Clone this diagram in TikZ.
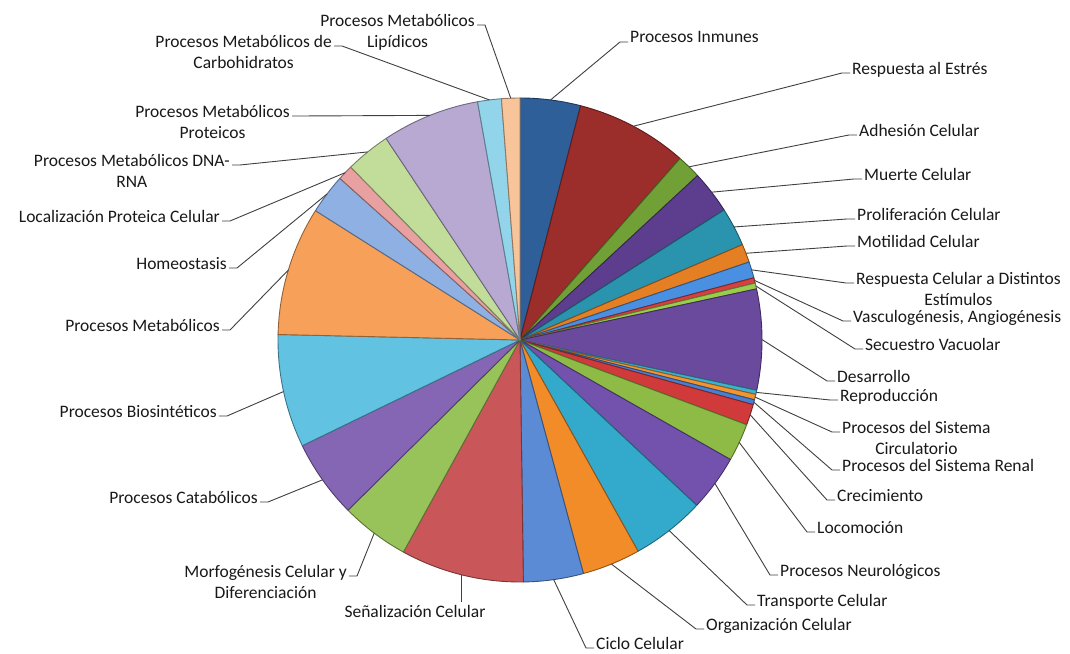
\documentclass[tikz,border=0pt]{standalone}
\usepackage{fontspec}
\setmainfont{Carlito}
\usetikzlibrary{calc}

\definecolor{cInm}{HTML}{2F5F98}
\definecolor{cEstres}{HTML}{9B2D2A}
\definecolor{cAdh}{HTML}{71A136}
\definecolor{cMuerte}{HTML}{5C3D8E}
\definecolor{cProlif}{HTML}{2A94AE}
\definecolor{cMotil}{HTML}{E57F24}
\definecolor{cResp}{HTML}{4A90E2}
\definecolor{cVasc}{HTML}{D64040}
\definecolor{cSecu}{HTML}{9ACD4E}
\definecolor{cDesa}{HTML}{6A4A9C}
\definecolor{cRepro}{HTML}{3CB4D0}
\definecolor{cCirc}{HTML}{F29430}
\definecolor{cRenal}{HTML}{4A7FD0}
\definecolor{cCrec}{HTML}{D03A3A}
\definecolor{cLoco}{HTML}{8DBB45}
\definecolor{cNeuro}{HTML}{7352AD}
\definecolor{cTransp}{HTML}{33AACB}
\definecolor{cOrgan}{HTML}{F28C28}
\definecolor{cCiclo}{HTML}{5B8BD4}
\definecolor{cSenal}{HTML}{C9575A}
\definecolor{cMorfo}{HTML}{98C25A}
\definecolor{cCatab}{HTML}{8466B5}
\definecolor{cBiosin}{HTML}{62C2E2}
\definecolor{cMetab}{HTML}{F7A05A}
\definecolor{cHomeo}{HTML}{8EB0E2}
\definecolor{cLocal}{HTML}{E8A0A0}
\definecolor{cDna}{HTML}{C2DC9A}
\definecolor{cProt}{HTML}{B7A9D2}
\definecolor{cCarb}{HTML}{92D5EA}
\definecolor{cLipi}{HTML}{F8C49A}

\begin{document}
\begin{tikzpicture}[x=1pt, y=1pt,
    slice/.style={fill=#1, draw=#1!60!black, line width=0.9pt, line join=round},
    lbl/.style={inner sep=0pt, align=center, font=\fontsize{17.5}{21}\selectfont, text=black!90},
    lblR/.style={lbl, anchor=north west},
    lblL/.style={lbl, anchor=north east},
    lead/.style={draw=black!75, line width=0.9pt}
]
\fill[white] (0,0) rectangle (1070,653);
\useasboundingbox (0,0) rectangle (1070,653);

\coordinate (o) at (520,313);

% pie slices, clockwise from the top
\path[slice=cInm] (o) -- ++(90:242pt) arc[start angle=90, end angle=75.5, radius=242pt] -- cycle;
\path[slice=cEstres] (o) -- ++(75.5:242pt) arc[start angle=75.5, end angle=48.6, radius=242pt] -- cycle;
\path[slice=cAdh] (o) -- ++(48.6:242pt) arc[start angle=48.6, end angle=42.8, radius=242pt] -- cycle;
\path[slice=cMuerte] (o) -- ++(42.8:242pt) arc[start angle=42.8, end angle=32.5, radius=242pt] -- cycle;
\path[slice=cProlif] (o) -- ++(32.5:242pt) arc[start angle=32.5, end angle=23.2, radius=242pt] -- cycle;
\path[slice=cMotil] (o) -- ++(23.2:242pt) arc[start angle=23.2, end angle=18.8, radius=242pt] -- cycle;
\path[slice=cResp] (o) -- ++(18.8:242pt) arc[start angle=18.8, end angle=14.9, radius=242pt] -- cycle;
\path[slice=cVasc] (o) -- ++(14.9:242pt) arc[start angle=14.9, end angle=13.6, radius=242pt] -- cycle;
\path[slice=cSecu] (o) -- ++(13.6:242pt) arc[start angle=13.6, end angle=12.2, radius=242pt] -- cycle;
\path[slice=cDesa] (o) -- ++(12.2:242pt) arc[start angle=12.2, end angle=-12, radius=242pt] -- cycle;
\path[slice=cRepro] (o) -- ++(-12:242pt) arc[start angle=-12, end angle=-13, radius=242pt] -- cycle;
\path[slice=cCirc] (o) -- ++(-13:242pt) arc[start angle=-13, end angle=-14.3, radius=242pt] -- cycle;
\path[slice=cRenal] (o) -- ++(-14.3:242pt) arc[start angle=-14.3, end angle=-15.5, radius=242pt] -- cycle;
\path[slice=cCrec] (o) -- ++(-15.5:242pt) arc[start angle=-15.5, end angle=-20.5, radius=242pt] -- cycle;
\path[slice=cLoco] (o) -- ++(-20.5:242pt) arc[start angle=-20.5, end angle=-29.6, radius=242pt] -- cycle;
\path[slice=cNeuro] (o) -- ++(-29.6:242pt) arc[start angle=-29.6, end angle=-43.1, radius=242pt] -- cycle;
\path[slice=cTransp] (o) -- ++(-43.1:242pt) arc[start angle=-43.1, end angle=-60.8, radius=242pt] -- cycle;
\path[slice=cOrgan] (o) -- ++(-60.8:242pt) arc[start angle=-60.8, end angle=-74.8, radius=242pt] -- cycle;
\path[slice=cCiclo] (o) -- ++(-74.8:242pt) arc[start angle=-74.8, end angle=-89.2, radius=242pt] -- cycle;
\path[slice=cSenal] (o) -- ++(-89.2:242pt) arc[start angle=-89.2, end angle=-118.8, radius=242pt] -- cycle;
\path[slice=cMorfo] (o) -- ++(-118.8:242pt) arc[start angle=-118.8, end angle=-135.3, radius=242pt] -- cycle;
\path[slice=cCatab] (o) -- ++(-135.3:242pt) arc[start angle=-135.3, end angle=-154.1, radius=242pt] -- cycle;
\path[slice=cBiosin] (o) -- ++(-154.1:242pt) arc[start angle=-154.1, end angle=-181.3, radius=242pt] -- cycle;
\path[slice=cMetab] (o) -- ++(-181.3:242pt) arc[start angle=-181.3, end angle=-212.3, radius=242pt] -- cycle;
\path[slice=cHomeo] (o) -- ++(-212.3:242pt) arc[start angle=-212.3, end angle=-221.9, radius=242pt] -- cycle;
\path[slice=cLocal] (o) -- ++(-221.9:242pt) arc[start angle=-221.9, end angle=-225.6, radius=242pt] -- cycle;
\path[slice=cDna] (o) -- ++(-225.6:242pt) arc[start angle=-225.6, end angle=-236.4, radius=242pt] -- cycle;
\path[slice=cProt] (o) -- ++(-236.4:242pt) arc[start angle=-236.4, end angle=-259.9, radius=242pt] -- cycle;
\path[slice=cCarb] (o) -- ++(-259.9:242pt) arc[start angle=-259.9, end angle=-265.6, radius=242pt] -- cycle;
\path[slice=cLipi] (o) -- ++(-265.6:242pt) arc[start angle=-265.6, end angle=-270, radius=242pt] -- cycle;

% where the leaders meet the rim
\coordinate (inm-e) at ($(o)+(82.75:242pt)$);
\coordinate (estres-e) at ($(o)+(62.05:242pt)$);
\coordinate (adh-e) at ($(o)+(45.7:242pt)$);
\coordinate (muerte-e) at ($(o)+(37.65:242pt)$);
\coordinate (prolif-e) at ($(o)+(27.85:242pt)$);
\coordinate (motil-e) at ($(o)+(21:242pt)$);
\coordinate (resp-e) at ($(o)+(16.85:242pt)$);
\coordinate (vasc-e) at ($(o)+(14.25:242pt)$);
\coordinate (secu-e) at ($(o)+(12.9:242pt)$);
\coordinate (desa-e) at ($(o)+(0.1:242pt)$);
\coordinate (repro-e) at ($(o)+(-12.5:242pt)$);
\coordinate (circ-e) at ($(o)+(-13.65:242pt)$);
\coordinate (renal-e) at ($(o)+(-14.9:242pt)$);
\coordinate (crec-e) at ($(o)+(-18:242pt)$);
\coordinate (loco-e) at ($(o)+(-25.05:242pt)$);
\coordinate (neuro-e) at ($(o)+(-36.35:242pt)$);
\coordinate (transp-e) at ($(o)+(-51.95:242pt)$);
\coordinate (organ-e) at ($(o)+(-67.8:242pt)$);
\coordinate (ciclo-e) at ($(o)+(-82:242pt)$);
\coordinate (senal-e) at ($(o)+(-104:242pt)$);
\coordinate (morfo-e) at ($(o)+(-127.05:242pt)$);
\coordinate (catab-e) at ($(o)+(-144.7:242pt)$);
\coordinate (biosin-e) at ($(o)+(-167.7:242pt)$);
\coordinate (metab-e) at ($(o)+(-196.8:242pt)$);
\coordinate (homeo-e) at ($(o)+(-217.1:242pt)$);
\coordinate (local-e) at ($(o)+(-223.75:242pt)$);
\coordinate (dna-e) at ($(o)+(-231:242pt)$);
\coordinate (prot-e) at ($(o)+(-248.15:242pt)$);
\coordinate (carb-e) at ($(o)+(-262.75:242pt)$);
\coordinate (lipi-e) at ($(o)+(-267.8:242pt)$);

% labels on the right
\node[lblR] (inm) at (630,621.5) {Procesos Inmunes};
\node[lblR] (estres) at (852,590.5) {Respuesta al Estrés};
\node[lblR] (adh) at (859,528.5) {Adhesión Celular};
\node[lblR] (muerte) at (864,484.5) {Muerte Celular};
\node[lblR] (prolif) at (857,444.5) {Proliferación Celular};
\node[lblR] (motil) at (857,417.5) {Motilidad Celular};
\node[lblR] (resp) at (856,380.5) {Respuesta Celular a Distintos\\Estímulos};
\node[lblR] (vasc) at (853,342.5) {Vasculogénesis, Angiogénesis};
\node[lblR] (secu) at (865,314.5) {Secuestro Vacuolar};
\node[lblR] (desa) at (837,282.5) {Desarrollo};
\node[lblR] (repro) at (840,263.5) {Reproducción};
\node[lblR] (circ) at (842,231.5) {Procesos del Sistema\\Circulatorio};
\node[lblR] (renal) at (842,193.5) {Procesos del Sistema Renal};
\node[lblR] (crec) at (837,163.5) {Crecimiento};
\node[lblR] (loco) at (817,131.5) {Locomoción};
\node[lblR] (neuro) at (780,88.5) {Procesos Neurológicos};
\node[lblR] (transp) at (757,58.5) {Transporte Celular};
\node[lblR] (organ) at (706,34.5) {Organización Celular};
\node[lblR] (ciclo) at (596,15.5) {Ciclo Celular};

% labels on the left
\node[lbl, anchor=north] (senal) at (415,47.5) {Señalización Celular};
\node[lblL] (morfo) at (347,87.5) {Morfogénesis Celular y\\Diferenciación};
\node[lblL] (catab) at (258,161.5) {Procesos Catabólicos};
\node[lblL] (biosin) at (217,247.5) {Procesos Biosintéticos};
\node[lblL] (metab) at (220,333.5) {Procesos Metabólicos};
\node[lblL] (homeo) at (227,395.5) {Homeostasis};
\node[lblL] (local) at (220,442.5) {Localización Proteica Celular};
\node[lblL] (dna) at (230,498.5) {Procesos Metabólicos DNA-\\RNA};
\node[lblL] (prot) at (290,547.5) {Procesos Metabólicos\\Proteicos};
\node[lblL] (carb) at (332,617.5) {Procesos Metabólicos de\\Carbohidratos};
\node[lblL] (lipi) at (475,638.5) {Procesos Metabólicos\\Lipídicos};

% leaders
\draw[lead] (inm-e) -- ($(inm.north west)+(-10,-10.5)$) -- ++(8,0);
\draw[lead] (estres-e) -- ($(estres.north west)+(-10,-10.5)$) -- ++(8,0);
\draw[lead] (adh-e) -- ($(adh.north west)+(-10,-10.5)$) -- ++(8,0);
\draw[lead] (muerte-e) -- ($(muerte.north west)+(-10,-10.5)$) -- ++(8,0);
\draw[lead] (prolif-e) -- ($(prolif.north west)+(-10,-10.5)$) -- ++(8,0);
\draw[lead] (motil-e) -- ($(motil.north west)+(-10,-10.5)$) -- ++(8,0);
\draw[lead] (resp-e) -- ($(resp.north west)+(-10,-10.5)$) -- ++(8,0);
\draw[lead] (vasc-e) -- ($(vasc.north west)+(-10,-10.5)$) -- ++(8,0);
\draw[lead] (secu-e) -- ($(secu.north west)+(-10,-10.5)$) -- ++(8,0);
\draw[lead] (desa-e) -- ($(desa.north west)+(-10,-10.5)$) -- ++(8,0);
\draw[lead] (repro-e) -- ($(repro.north west)+(-10,-10.5)$) -- ++(8,0);
\draw[lead] (circ-e) -- ($(circ.north west)+(-10,-10.5)$) -- ++(8,0);
\draw[lead] (renal-e) -- ($(renal.north west)+(-10,-10.5)$) -- ++(8,0);
\draw[lead] (crec-e) -- ($(crec.north west)+(-10,-10.5)$) -- ++(8,0);
\draw[lead] (loco-e) -- ($(loco.north west)+(-10,-10.5)$) -- ++(8,0);
\draw[lead] (neuro-e) -- ($(neuro.north west)+(-10,-10.5)$) -- ++(8,0);
\draw[lead] (transp-e) -- ($(transp.north west)+(-10,-10.5)$) -- ++(8,0);
\draw[lead] (organ-e) -- ($(organ.north west)+(-10,-10.5)$) -- ++(8,0);
\draw[lead] (ciclo-e) -- ($(ciclo.north west)+(-10,-10.5)$) -- ++(8,0);
\draw[lead] (senal-e) -- ($(senal-e |- senal.north)+(0,4)$);
\draw[lead] (morfo-e) -- ($(morfo.north east)+(10,-10.5)$) -- ++(-8,0);
\draw[lead] (catab-e) -- ($(catab.north east)+(10,-10.5)$) -- ++(-8,0);
\draw[lead] (biosin-e) -- ($(biosin.north east)+(10,-10.5)$) -- ++(-8,0);
\draw[lead] (metab-e) -- ($(metab.north east)+(10,-10.5)$) -- ++(-8,0);
\draw[lead] (homeo-e) -- ($(homeo.north east)+(10,-10.5)$) -- ++(-8,0);
\draw[lead] (local-e) -- ($(local.north east)+(10,-10.5)$) -- ++(-8,0);
\draw[lead] (dna-e) -- ($(dna.north east)+(10,-10.5)$) -- ++(-8,0);
\draw[lead] (prot-e) -- ($(prot.north east)+(10,-10.5)$) -- ++(-8,0);
\draw[lead] (carb-e) -- ($(carb.north east)+(10,-10.5)$) -- ++(-8,0);
\draw[lead] (lipi-e) -- ($(lipi.north east)+(10,-10.5)$) -- ++(-8,0);
\end{tikzpicture}
\end{document}
